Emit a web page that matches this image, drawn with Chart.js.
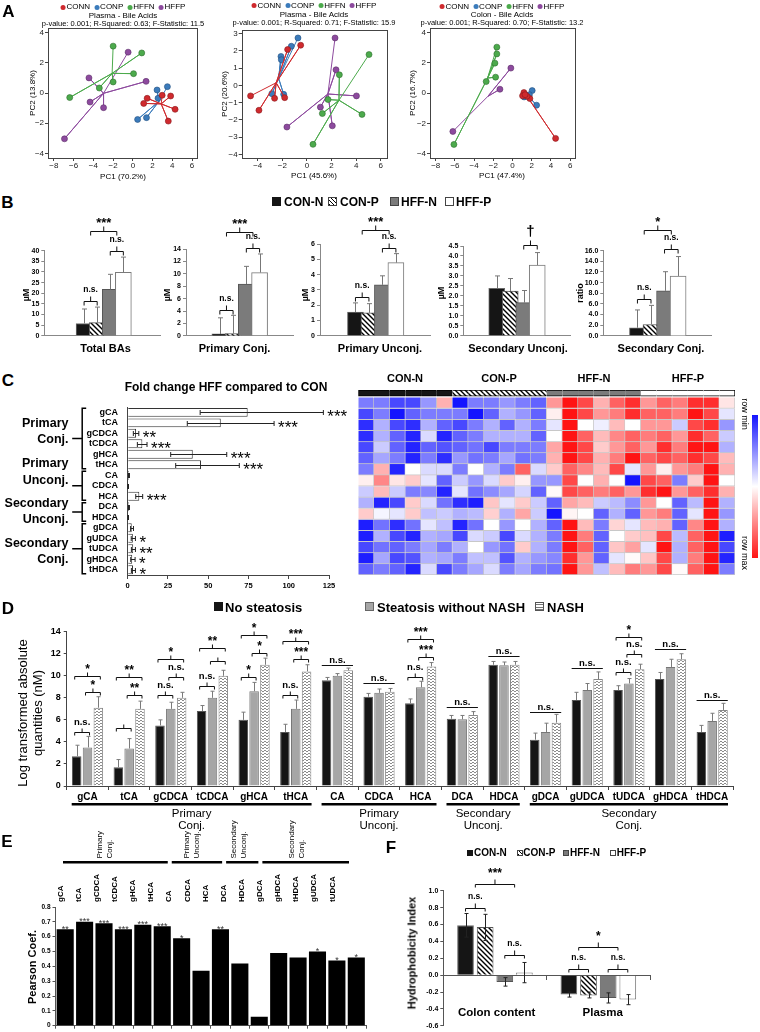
<!DOCTYPE html>
<html>
<head>
<meta charset="utf-8">
<title>Bile acids</title>
<script src="https://cdn.jsdelivr.net/npm/chart.js@4.4.1/dist/chart.umd.min.js"></script>
<style>
  html, body { margin: 0; background: #fff; }
  #page { position: relative; width: 760px; height: 1032px; overflow: hidden; font-family: "Liberation Sans", Arial, sans-serif; color: #000; }
  #page canvas { position: absolute; }
  .t { position: absolute; white-space: nowrap; }
  .sw { position: absolute; box-sizing: border-box; }
  .row { position: absolute; display: flex; align-items: center; white-space: nowrap; transform: translate(-50%, -50%); }
  .dot { display: inline-block; border-radius: 50%; }
</style>
</head>
<body>
<div id="page"></div>
<script>
// ---------- A: PCA score plots ----------
const pcaGroups = ['CONN', 'CONP', 'HFFN', 'HFFP'];
const pcaColors = ['#cf2a2e', '#3b7bbb', '#4caa4c', '#8d4a9e'];
const pcaEdges = ['#8a1a1d', '#244f7d', '#2f6f2f', '#5c2f68'];

const plasma1Conn = [[2.97, -0.15], [3.83, -0.2], [1.45, -0.35], [1.1, -0.69], [4.28, -1.08], [3.59, -1.86]];
const plasma1Conp = [[3.5, 0.42], [2.45, 0.2], [2.55, -0.35], [0.48, -1.75], [1.38, -1.63]];
const plasma1Hffn = [[-2.0, 3.1], [0.9, 2.65], [0.07, 1.28], [-2.0, 0.73], [-3.4, 0.33], [-6.4, -0.3]];
const plasma1Hffp = [[-0.48, 2.7], [-4.45, 1.0], [1.34, 0.77], [-4.34, -0.6], [-2.97, -0.97], [-6.93, -3.03]];
const plasma1Centers = [[2.87, -0.72], [2.65, -0.55], [-2.1, 1.3], [-2.97, -0.02]];

const plasma2Conn = [[-4.58, -0.61], [-3.9, -1.44], [-2.63, -0.75], [-1.81, -0.71], [-1.57, 2.07], [-0.51, 2.32]];
const plasma2Conp = [[-0.73, 2.74], [-1.27, 2.26], [-2.11, 1.67], [-2.08, 1.48], [-2.85, -0.48], [-1.89, -0.52]];
const plasma2Hffn = [[5.04, 1.78], [2.63, 0.61], [1.71, -0.82], [1.25, -1.63], [4.47, -1.68], [0.49, -3.41]];
const plasma2Hffp = [[2.28, 2.74], [2.36, 0.9], [4.02, -0.61], [1.09, -1.26], [2.06, -2.34], [-1.63, -2.41]];
const plasma2Centers = [[-2.5, 0.15], [-2.3, 0.4], [2.6, -0.86], [1.7, -0.5]];

const colonConn = [[1.18, 0.04], [1.04, -0.18], [1.8, -0.36], [4.48, -3.0], [1.5, -0.2], [1.3, -0.1]];
const colonConp = [[2.04, 0.17], [2.5, -0.8], [1.4, -0.2], [1.75, -0.1], [1.2, -0.25]];
const colonHffn = [[-1.64, 3.05], [-1.64, 2.6], [-1.84, 1.99], [-1.77, 1.06], [-2.75, 0.77], [-6.11, -3.4]];
const colonHffp = [[-6.22, -2.54], [-1.32, 0.26], [-0.18, 1.66]];
const colonCenters = [[1.6, -0.3], [1.7, -0.25], [-2.6, 1.0], [-2.57, -0.21]];

// ---------- B: bile acid pools ----------
const bGroups = ['CON-N', 'CON-P', 'HFF-N', 'HFF-P'];
const totalBAs = [5.8, 6.2, 21.8, 29.8];
const totalBAsErr = [12.6, 13.5, 28.9, 37.0];
const totalBAsSig = [[0, 1, 16.5, 'n.s.'], [2, 3, 40, 'n.s.'], [0.5, 2.5, 49.3, '***']];
const primaryConj = [0.3, 0.35, 8.35, 10.2];
const primaryConjErr = [2.9, 3.3, 11.2, 13.2];
const primaryConjSig = [[0, 1, 4.1, 'n.s.'], [2, 3, 14.1, 'n.s.'], [0.5, 2.5, 16.8, '***']];
const primaryUnconj = [1.55, 1.5, 3.33, 4.78];
const primaryUnconjErr = [2.15, 2.1, 3.92, 5.37];
const primaryUnconjSig = [[0, 1, 2.55, 'n.s.'], [2, 3, 5.77, 'n.s.'], [0.5, 2.5, 6.9, '***']];
const secondaryUnconj = [2.38, 2.24, 1.66, 3.54];
const secondaryUnconjErr = [3.0, 2.87, 2.27, 4.17];
const secondaryUnconjSig = [[2, 3, 4.55, '\u2020']];
const secondaryConj = [1.52, 2.12, 8.45, 11.25];
const secondaryConjErr = [4.86, 5.72, 12.05, 14.9];
const secondaryConjSig = [[0, 1, 6.87, 'n.s.'], [2, 3, 16.25, 'n.s.'], [0.5, 2.5, 19.8, '*']];

// ---------- C: fold change and heatmap ----------
const cRows = ['gCA', 'tCA', 'gCDCA', 'tCDCA', 'gHCA', 'tHCA', 'CA', 'CDCA', 'HCA', 'DCA', 'HDCA', 'gDCA', 'gUDCA', 'tUDCA', 'gHDCA', 'tHDCA'];
const cFold = [74.5, 57.8, 5.2, 9.1, 40.4, 45.5, 0.8, 0.3, 7.2, 0.8, 0.3, 2.5, 3.2, 3.4, 2.8, 3.3];
const cErrLow = [45, 37, 3.5, 6, 26.7, 29.8, 0.5, 0.1, 5, 0.5, 0.1, 1.8, 2.2, 2.3, 1.9, 2.3];
const cErrHigh = [121.5, 90.9, 6.9, 12, 61.5, 69.3, 1.1, 0.5, 9.3, 1.1, 0.5, 3.6, 4.8, 4.8, 4.6, 4.8];
const cStars = ['***', '***', '**', '***', '***', '***', '', '', '***', '', '', '', '*', '**', '*', '*'];
const acidGroups = [[0, 5], [6, 8], [9, 10], [11, 15]];
const groupNames = [['Primary', 'Conj.'], ['Primary', 'Unconj.'], ['Secondary', 'Unconj.'], ['Secondary', 'Conj.']];

const heatSamples = ['CN1', 'CN2', 'CN3', 'CN4', 'CN5', 'CN6', 'CP1', 'CP2', 'CP3', 'CP4', 'CP5', 'CP6',
                     'HN1', 'HN2', 'HN3', 'HN4', 'HN5', 'HN6', 'HP1', 'HP2', 'HP3', 'HP4', 'HP5', 'HP6'];
const heatGroupOf = [0, 0, 0, 0, 0, 0, 1, 1, 1, 1, 1, 1, 2, 2, 2, 2, 2, 2, 3, 3, 3, 3, 3, 3];
// 0 = row min (blue) ... 4.5 = white ... 9 = row max (red)
const heatRows = [
  [2, 2, 1, 1, 2.5, 6, 0, 2, 2, 2.5, 2, 1.5, 6.5, 9, 8, 6, 7.5, 8.5, 6.5, 7.5, 7, 8.5, 8.5, 5],
  [1, 2, 0, 1.5, 2, 2, 2, 0, 1.5, 3, 2.5, 1.5, 4.8, 9, 8, 6.5, 7, 8.5, 7.5, 7.5, 7, 9, 8, 4],
  [0.5, 3, 1, 0.5, 3, 1.5, 1, 2, 3, 1.5, 3, 2, 4, 9, 4.5, 4.2, 5.8, 4.5, 6.5, 6.5, 3.5, 8, 8.5, 2.5],
  [0.5, 3, 1.5, 0.3, 3.8, 0.3, 1.5, 2, 3, 3, 3, 1.5, 4.5, 9, 7.5, 5.8, 6.8, 7.5, 7, 7.5, 6.5, 8.5, 7.5, 3.5],
  [1, 3.5, 1.5, 0.3, 1.5, 1.2, 1.5, 1.8, 1, 2, 2, 2, 6.2, 9, 8, 5.5, 6.5, 7.5, 6.5, 8.5, 7, 9, 9, 3],
  [1.5, 2.8, 2, 0.3, 2, 0.5, 2.5, 1.8, 2, 2.8, 1.8, 2, 6, 9, 8, 6, 7, 9, 7.5, 8, 7.5, 8.5, 8, 5.8],
  [2, 6, 0.3, 4.5, 3.8, 3.8, 2, 4.5, 3, 2, 7.5, 3.8, 5.5, 7.5, 6.8, 5.8, 8, 4, 6.5, 4.8, 6.5, 7, 9, 6],
  [4.8, 6.8, 5, 5.5, 4, 1.5, 3.5, 2.5, 3.8, 5.5, 4.8, 2.5, 2.5, 8, 4.5, 6, 4.5, 0, 8, 7.5, 2, 5.5, 9, 4.5],
  [3.5, 5.8, 3.5, 2, 2.2, 0.3, 4, 1.8, 2.3, 2.8, 3.7, 1.5, 4.6, 8, 7.5, 7, 7.5, 6.5, 8.5, 9, 6.5, 7.5, 8.5, 6],
  [3, 0.3, 1, 5.5, 3.8, 1.8, 0.5, 0.2, 5.6, 4, 5.5, 3.5, 1.5, 6.2, 5.8, 3.5, 3.2, 2.3, 6.5, 4.5, 1.5, 3.2, 9, 3],
  [5.5, 4.3, 4, 5.5, 3.3, 3.5, 3, 3.2, 5.4, 3, 6.2, 3.5, 0, 4.7, 4.5, 1.5, 3, 1.5, 6.5, 7, 1.5, 4, 9, 2.5],
  [0.2, 1.8, 0.5, 1.8, 4, 3.3, 0.3, 1.8, 4.5, 2.5, 4.5, 3, 1.5, 9, 5.8, 2, 5.3, 4, 5.8, 6, 1.5, 6.8, 9, 3],
  [0.2, 3, 1, 0.3, 3, 2.8, 1, 3.8, 3.5, 1, 3.8, 3, 2, 9, 7, 1.5, 4.5, 5.5, 5.7, 8, 3.2, 7.5, 9, 0.2],
  [1, 1.8, 1.5, 2, 2.8, 2, 3, 4.5, 2.5, 1.8, 5.5, 3, 2, 9, 7.5, 1.5, 5.6, 6.3, 4, 9, 3, 7.5, 9, 1],
  [0.2, 2.8, 1, 1.2, 3, 2.8, 2, 3.3, 3.3, 1.2, 3, 2.5, 2.2, 8.5, 6.5, 1.5, 4, 4.6, 5.6, 8, 3, 7, 9, 0.3],
  [1.5, 2, 1.5, 0.3, 3.8, 1, 2, 2.8, 3.8, 2, 2.8, 2, 1.8, 9, 6.5, 3.3, 5.8, 7, 6.5, 8, 4.6, 7.5, 9, 2]
];

// ---------- D: human cohort ----------
const dAcids = ['gCA', 'tCA', 'gCDCA', 'tCDCA', 'gHCA', 'tHCA', 'CA', 'CDCA', 'HCA', 'DCA', 'HDCA', 'gDCA', 'gUDCA', 'tUDCA', 'gHDCA', 'tHDCA'];
const dSeries = ['No steatosis', 'Steatosis without NASH', 'NASH'];
const dNoSteatosis = [2.7, 1.7, 5.5, 6.8, 6.0, 4.9, 9.6, 8.1, 7.5, 6.1, 11.0, 4.2, 7.8, 8.7, 9.7, 4.9];
const dSteatosis = [3.5, 3.4, 7.0, 8.0, 8.6, 7.0, 10.0, 8.45, 8.95, 6.05, 10.95, 4.9, 8.7, 9.3, 10.8, 5.9];
const dNash = [7.1, 7.0, 8.0, 10.0, 11.0, 10.4, 10.5, 8.55, 10.85, 6.45, 11.0, 5.75, 9.7, 10.6, 11.5, 6.9];
const dNoSteatosisErr = [3.7, 2.4, 6.0, 7.3, 6.7, 5.6, 9.85, 8.4, 7.9, 6.4, 11.3, 4.8, 8.5, 9.1, 10.3, 5.5];
const dSteatosisErr = [4.5, 4.3, 7.6, 8.6, 9.4, 7.8, 10.2, 8.8, 9.5, 6.4, 11.25, 5.7, 9.3, 9.75, 11.5, 6.6];
const dNashErr = [8.1, 7.7, 8.5, 10.5, 11.6, 11.0, 10.7, 8.85, 11.2, 6.75, 11.3, 6.5, 10.35, 11.05, 12.0, 7.5];
// [acid, bar a, bar b, height, label, kind: b = bracket, l = line over the three bars]
const dSig = [
  [0, 0, 1, 4.93, 'n.s.', 'b'], [0, 1, 2, 8.56, '*', 'b'], [0, 0, 2, 9.98, '*', 'b'],
  [1, 0, 1, 5.24, '', 'b'], [1, 1, 2, 8.26, '**', 'b'], [1, 0, 2, 9.92, '**', 'b'],
  [2, 0, 1, 8.26, 'n.s.', 'b'], [2, 1, 2, 9.86, 'n.s.', 'b'], [2, 0, 2, 11.53, '*', 'b'],
  [3, 0, 1, 9.07, 'n.s.', 'b'], [3, 1, 2, 11.34, '', 'b'], [3, 0, 2, 12.55, '**', 'b'],
  [4, 0, 1, 9.86, '*', 'b'], [4, 1, 2, 12.1, '*', 'b'], [4, 0, 2, 13.7, '*', 'b'],
  [5, 0, 1, 8.26, 'n.s.', 'b'], [5, 1, 2, 11.53, '***', 'b'], [5, 0, 2, 13.16, '***', 'b'],
  [6, 0, 2, 10.99, 'n.s.', 'l'],
  [7, 0, 2, 9.32, 'n.s.', 'l'],
  [8, 0, 1, 9.92, 'n.s.', 'b'], [8, 1, 2, 11.73, '***', 'b'], [8, 0, 2, 13.31, '***', 'b'],
  [9, 0, 2, 7.2, 'n.s.', 'l'],
  [10, 0, 2, 11.79, 'n.s.', 'l'],
  [11, 0, 2, 6.68, 'n.s.', 'l'],
  [12, 0, 2, 10.68, 'n.s.', 'l'],
  [13, 0, 1, 10.38, 'n.s.', 'b'], [13, 1, 2, 11.98, 'n.s.', 'b'], [13, 0, 2, 13.55, '*', 'b'],
  [14, 0, 2, 12.4, 'n.s.', 'l'],
  [15, 0, 2, 7.8, 'n.s.', 'l']
];

// ---------- E: correlation ----------
const eAcids = ['gCA', 'tCA', 'gCDCA', 'tCDCA', 'gHCA', 'tHCA', 'CA', 'CDCA', 'HCA', 'DCA', 'HDCA', 'gDCA', 'gHDCA', 'tHDCA', 'gUDCA', 'tUDCA'];
const eCoef = [0.65, 0.70, 0.69, 0.65, 0.68, 0.67, 0.59, 0.37, 0.65, 0.42, 0.06, 0.49, 0.46, 0.50, 0.44, 0.46];
const eStars = ['**', '***', '***', '***', '***', '***', '*', '', '**', '', '', '', '', '*', '*', '*'];

// ---------- F: hydrophobicity index ----------
const fCategories = ['Colon content', 'Plasma'];
const fValues = [[0.59, -0.23], [0.57, -0.24], [-0.08, -0.27], [0.03, -0.29]];
const fErrLow = [[0.45, -0.26], [0.41, -0.27], [-0.13, -0.33], [-0.09, -0.35]];
const fErrHigh = [[0.73, -0.20], [0.72, -0.20], [-0.03, -0.21], [0.15, -0.23]];
// [category, bar a, bar b, height, label]
const fSig = [[0, 0, 1, 0.80, 'n.s.'], [0, 2, 3, 0.24, 'n.s.'], [0, 0.5, 2.5, 1.08, '***'],
              [1, 0, 1, 0.075, 'n.s.'], [1, 2, 3, 0.075, 'n.s.'], [1, 0.5, 2.5, 0.33, '*']];

// ---------- setup ----------
const page = document.getElementById('page');
const FONT = '"Liberation Sans", Arial, Helvetica, sans-serif';
Chart.defaults.font.family = FONT;
Chart.defaults.color = '#000';
Chart.defaults.animation = false;
Chart.defaults.events = [];
Chart.defaults.plugins.legend.display = false;
Chart.defaults.plugins.tooltip.enabled = false;

function fnt(w, s) { return w + ' ' + s + 'px ' + FONT; }

function hatch(size, lw) {
  const c = document.createElement('canvas');
  c.width = c.height = size;
  const g = c.getContext('2d');
  g.fillStyle = '#fff'; g.fillRect(0, 0, size, size);
  g.strokeStyle = '#000'; g.lineWidth = lw;
  g.beginPath();
  g.moveTo(-1, -1); g.lineTo(size + 1, size + 1);
  g.moveTo(size - 1, -1); g.lineTo(size + 1, 1);
  g.moveTo(-1, size - 1); g.lineTo(1, size + 1);
  g.stroke();
  return g.createPattern(c, 'repeat');
}
function waves() {
  const c = document.createElement('canvas');
  c.width = 4; c.height = 3;
  const g = c.getContext('2d');
  g.fillStyle = '#fff'; g.fillRect(0, 0, 4, 3);
  g.fillStyle = '#8c8c8c'; g.fillRect(0, 0, 2, 1); g.fillRect(2, 1, 2, 1);
  return g.createPattern(c, 'repeat');
}
const hatchFill = hatch(5, 1.4);
const groupFill = ['#151515', hatchFill, '#7b7b7b', '#ffffff'];
const groupEdge = ['#6a6a6a', '#555', '#555', '#7a7a7a'];
const cssFill = ['#151515', 'repeating-linear-gradient(45deg, #000 0 1px, #fff 1px 3px)', '#7b7b7b', '#fff'];

function heatColor(v) {
  const t = v / 9;
  if (t < 0.5) { const k = Math.round(20 + 235 * (t / 0.5)); return `rgb(${k},${k},255)`; }
  const k = Math.round(255 - 235 * ((t - 0.5) / 0.5));
  return `rgb(255,${k},${k})`;
}

function txt(s, x, y, font, align, rot) {
  const d = document.createElement('div');
  d.className = 't';
  d.textContent = s;
  d.style.left = x + 'px';
  d.style.top = y + 'px';
  d.style.font = font;
  d.style.lineHeight = '1';
  const tx = align === 'left' ? '0' : align === 'right' ? '-100%' : '-50%';
  d.style.transform = `translate(${tx}, -50%)` + (rot ? ` rotate(${rot}deg)` : '');
  page.appendChild(d);
}
function swatch(x, y, size, bg, edge) {
  const d = document.createElement('div');
  d.className = 'sw';
  d.style.left = x + 'px'; d.style.top = (y - size / 2) + 'px';
  d.style.width = size + 'px'; d.style.height = size + 'px';
  d.style.background = bg;
  d.style.border = edge ? '1px solid ' + edge : 'none';
  page.appendChild(d);
}
function dotLegend(cx, cy) {
  const r = document.createElement('div');
  r.className = 'row';
  r.style.left = cx + 'px'; r.style.top = cy + 'px';
  r.style.font = fnt('normal', 8); r.style.lineHeight = '1';
  pcaGroups.forEach((g, i) => {
    const dot = document.createElement('span');
    dot.className = 'dot';
    dot.style.width = '5px'; dot.style.height = '5px';
    dot.style.background = pcaColors[i];
    dot.style.marginLeft = (i ? 4 : 0) + 'px';
    dot.style.marginRight = '1px';
    r.appendChild(dot);
    r.appendChild(document.createTextNode(g));
  });
  page.appendChild(r);
}

function makeChart(rect, config) {
  const cv = document.createElement('canvas');
  cv.width = rect[2]; cv.height = rect[3];
  cv.style.left = rect[0] + 'px'; cv.style.top = rect[1] + 'px';
  cv.style.width = rect[2] + 'px'; cv.style.height = rect[3] + 'px';
  page.appendChild(cv);
  config.options.responsive = false;
  return new Chart(cv.getContext('2d'), config);
}
// rect = [x, y, w, h] of the canvas, area = [left, top, right, bottom] of the plot, page pixels
function pad(rect, area, yw, xh) {
  return { left: area[0] - rect[0] - yw, top: area[1] - rect[1],
           right: rect[0] + rect[2] - area[2], bottom: rect[1] + rect[3] - area[3] - xh };
}
function seg(ctx, x1, y1, x2, y2) {
  ctx.beginPath(); ctx.moveTo(x1, y1); ctx.lineTo(x2, y2); ctx.stroke();
}
// significance bracket; st = {up, down, small, big, dagger, gapS, gapB}
function bracket(ctx, x1, x2, y, label, st) {
  ctx.beginPath();
  ctx.moveTo(x1, y + st.down); ctx.lineTo(x1, y); ctx.lineTo(x2, y); ctx.lineTo(x2, y + st.down);
  const xm = (x1 + x2) / 2;
  ctx.moveTo(xm, y); ctx.lineTo(xm, y - st.up);
  ctx.stroke();
  if (!label) return;
  const star = label.indexOf('*') >= 0;
  ctx.font = star ? st.big : label === '\u2020' ? st.dagger : st.small;
  ctx.textAlign = 'center'; ctx.textBaseline = 'alphabetic';
  ctx.fillText(label, xm, y - st.up - (star ? st.gapB : st.gapS));
}

const framePlugin = {
  id: 'frame',
  afterDraw(chart) {
    const a = chart.chartArea, c = chart.ctx;
    c.save();
    c.strokeStyle = '#444'; c.lineWidth = 1;
    c.strokeRect(Math.round(a.left) + 0.5, Math.round(a.top) + 0.5, Math.round(a.right - a.left), Math.round(a.bottom - a.top));
    c.restore();
  }
};
const minus = v => String(v).replace('-', '\u2212');

// ---------- A ----------
function pcaChart(rect, area, xr, yr, yStep, sets, centers) {
  const yw = 18, xh = 14;
  return makeChart(rect, {
    type: 'scatter',
    data: {
      datasets: sets.map((pts, g) => ({
        label: pcaGroups[g],
        data: pts.flatMap(p => [{ x: p[0], y: p[1] }, { x: centers[g][0], y: centers[g][1] }]),
        showLine: true,
        borderColor: pcaColors[g],
        borderWidth: 1,
        pointRadius: c => (c.dataIndex % 2 ? 0 : 3),
        pointBackgroundColor: pcaColors[g],
        pointBorderColor: pcaEdges[g],
        pointBorderWidth: 0.6
      }))
    },
    options: {
      layout: { padding: pad(rect, area, yw, xh) },
      scales: {
        x: { type: 'linear', min: xr[0], max: xr[1], afterFit: s => { s.height = xh; },
             ticks: { stepSize: 2, includeBounds: false, autoSkip: false, maxRotation: 0, font: { size: 8 }, color: '#222', padding: 0, callback: minus },
             grid: { drawOnChartArea: false, tickLength: 3, color: '#444' }, border: { display: false } },
        y: { type: 'linear', min: yr[0], max: yr[1], afterFit: s => { s.width = yw; },
             ticks: { stepSize: yStep, includeBounds: false, autoSkip: false, font: { size: 8 }, color: '#222', padding: 1, callback: minus },
             grid: { drawOnChartArea: false, tickLength: 3, color: '#444' }, border: { display: false } }
      }
    },
    plugins: [framePlugin]
  });
}
pcaChart([0, 0, 240, 184], [48, 28, 197, 158], [-8.6, 6.5], [-4.3, 4.3], 2,
         [plasma1Conn, plasma1Conp, plasma1Hffn, plasma1Hffp], plasma1Centers);
pcaChart([200, 0, 200, 184], [241.7, 30, 387, 158], [-5.3, 6.5], [-4.2, 3.2], 1,
         [plasma2Conn, plasma2Conp, plasma2Hffn, plasma2Hffp], plasma2Centers);
pcaChart([396, 0, 200, 184], [430, 28.3, 575, 158], [-8.6, 6.5], [-4.3, 4.3], 2,
         [colonConn, colonConp, colonHffn, colonHffp], colonCenters);

txt('A', 8.5, 11, fnt('bold', 17));
dotLegend(123, 7.3);
txt('Plasma - Bile Acids', 123, 16, fnt('normal', 8));
txt('p-value: 0.001; R-Squared: 0.63; F-Statistic: 11.5', 123, 24, fnt('normal', 7.5));
dotLegend(314, 5.7);
txt('Plasma - Bile Acids', 314, 15, fnt('normal', 8));
txt('p-value: 0.001; R-Squared: 0.71; F-Statistic: 15.9', 314, 22.7, fnt('normal', 7.5));
dotLegend(502, 6.7);
txt('Colon - Bile Acids', 502, 15, fnt('normal', 8));
txt('p-value: 0.001; R-Squared: 0.70; F-Statistic: 13.2', 502, 23.3, fnt('normal', 7.5));
txt('PC2 (13.8%)', 33, 93, fnt('normal', 8), null, -90);
txt('PC1 (70.2%)', 123, 177, fnt('normal', 8));
txt('PC2 (20.6%)', 225, 94, fnt('normal', 8), null, -90);
txt('PC1 (45.6%)', 314, 176, fnt('normal', 8));
txt('PC2 (16.7%)', 413, 93, fnt('normal', 8), null, -90);
txt('PC1 (47.4%)', 502, 176, fnt('normal', 8));

// ---------- B ----------
const bStyle = { up: 5, down: 4, small: fnt('bold', 8.5), big: fnt('bold', 13), dagger: fnt('bold', 15), gapS: 5, gapB: 0 };
function bPanel(rect, area, xr, ymax, step, digits, yw, vals, errs, sig) {
  return makeChart(rect, {
    type: 'bar',
    data: { datasets: [{ data: vals.map((v, i) => ({ x: i, y: v })), backgroundColor: groupFill, borderColor: groupEdge, borderWidth: 1, barThickness: 16 }] },
    options: {
      layout: { padding: pad(rect, area, yw, 2) },
      scales: {
        x: { type: 'linear', min: xr[0], max: xr[1], afterFit: s => { s.height = 2; },
             ticks: { display: false }, grid: { display: false }, border: { color: '#888' } },
        y: { min: 0, max: ymax, afterFit: s => { s.width = yw; },
             ticks: { stepSize: step, autoSkip: false, font: { size: 7, weight: 'bold' }, padding: 2, callback: v => v.toFixed(digits) },
             grid: { drawOnChartArea: false, tickLength: 3, color: '#888' }, border: { color: '#888' } }
      }
    },
    plugins: [{
      id: 'bDeco',
      afterDatasetsDraw(chart) {
        const ctx = chart.ctx, x = chart.scales.x, y = chart.scales.y;
        ctx.save();
        ctx.strokeStyle = '#777'; ctx.lineWidth = 1;
        chart.getDatasetMeta(0).data.forEach((b, i) => {
          const yt = y.getPixelForValue(errs[i]), xc = Math.round(b.x) + 0.5;
          seg(ctx, xc, b.y, xc, yt);
          seg(ctx, xc - 2.5, yt, xc + 2.5, yt);
        });
        ctx.strokeStyle = '#111'; ctx.fillStyle = '#000';
        sig.forEach(s => bracket(ctx, x.getPixelForValue(s[0]), x.getPixelForValue(s[1]), Math.round(y.getPixelForValue(s[2])) + 0.5, s[3], bStyle));
        ctx.restore();
      }
    }]
  });
}
bPanel([10, 212, 160, 130], [44.3, 250.7, 160, 339.3], [-0.83, 3.59], 40, 5, 0, 20, totalBAs, totalBAsErr, totalBAsSig);
bPanel([160, 212, 140, 130], [186, 249, 293.3, 339.3], [-0.53, 3.52], 14, 2, 0, 20, primaryConj, primaryConjErr, primaryConjSig);
bPanel([296, 212, 144, 130], [320, 244, 430, 338.3], [-0.59, 3.49], 6, 1, 0, 20, primaryUnconj, primaryUnconjErr, primaryUnconjSig);
bPanel([436, 212, 144, 130], [463.3, 246, 570, 338.3], [-0.5, 3.45], 4.5, 0.5, 1, 24, secondaryUnconj, secondaryUnconjErr, secondaryUnconjSig);
bPanel([574, 212, 150, 130], [603.3, 250.7, 711.7, 338.3], [-0.52, 3.48], 16, 2, 1, 26, secondaryConj, secondaryConjErr, secondaryConjSig);

txt('B', 7.5, 201.7, fnt('bold', 17));
[[272, 284], [328, 340], [390, 401], [445, 456]].forEach((p, i) => {
  swatch(p[0], 201.7, 9, cssFill[i], i ? '#444' : null);
  txt(bGroups[i], p[1], 201.7, fnt('bold', 12), 'left');
});
txt('\u00b5M', 26, 295, fnt('bold', 9), null, -90);
txt('\u00b5M', 167, 295, fnt('bold', 9), null, -90);
txt('\u00b5M', 305, 295, fnt('bold', 9), null, -90);
txt('\u00b5M', 441, 293, fnt('bold', 9), null, -90);
txt('ratio', 580, 293, fnt('bold', 9), null, -90);
txt('Total BAs', 105.5, 348.3, fnt('bold', 11));
txt('Primary Conj.', 234.5, 348.3, fnt('bold', 11));
txt('Primary Unconj.', 380, 348.3, fnt('bold', 11));
txt('Secondary Unconj.', 518, 348.3, fnt('bold', 11));
txt('Secondary Conj.', 661, 348.3, fnt('bold', 11));

// ---------- C ----------
const cRect = [0, 392, 358, 200], cArea = [127.7, 401, 329, 575];
makeChart(cRect, {
  type: 'bar',
  data: { labels: cRows, datasets: [{ data: cFold, backgroundColor: '#fff', borderColor: '#333', borderWidth: 1, barPercentage: 0.85, categoryPercentage: 1 }] },
  options: {
    indexAxis: 'y',
    layout: { padding: pad(cRect, cArea, 60, 14) },
    scales: {
      x: { min: 0, max: 125, afterFit: s => { s.height = 14; },
           ticks: { stepSize: 25, font: { size: 7.5, weight: 'bold' }, padding: 2, maxRotation: 0, autoSkip: false },
           grid: { drawOnChartArea: false, tickLength: 4, color: '#444' }, border: { color: '#444' } },
      y: { afterFit: s => { s.width = 60; },
           ticks: { font: { size: 9, weight: 'bold' }, padding: 9.7, autoSkip: false },
           grid: { display: false, drawTicks: false }, border: { color: '#444' } }
    }
  },
  plugins: [{
    id: 'cDeco',
    afterDatasetsDraw(chart) {
      const ctx = chart.ctx, a = chart.chartArea, x = chart.scales.x, y = chart.scales.y;
      ctx.save();
      ctx.strokeStyle = '#222'; ctx.fillStyle = '#000'; ctx.lineWidth = 1;
      cFold.forEach((v, i) => {
        const yc = Math.round(y.getPixelForValue(i)) + 0.5;
        const x1 = x.getPixelForValue(cErrLow[i]), x2 = x.getPixelForValue(cErrHigh[i]);
        seg(ctx, x1, yc, x2, yc);
        seg(ctx, x1, yc - 2.5, x1, yc + 2.5);
        seg(ctx, x2, yc - 2.5, x2, yc + 2.5);
        if (cStars[i]) {
          ctx.font = fnt('normal', 17); ctx.textAlign = 'left'; ctx.textBaseline = 'alphabetic';
          ctx.fillText(cStars[i], x2 + 4, yc + 9.8);
        }
      });
      ctx.lineWidth = 1.5; ctx.strokeStyle = '#000';
      acidGroups.forEach(([i0, i1]) => {
        const yt = y.getPixelForValue(i0) - 4, yb = y.getPixelForValue(i1) + 4, xv = a.left - 45.5, ym = (yt + yb) / 2;
        ctx.beginPath();
        ctx.moveTo(xv + 4, yt); ctx.lineTo(xv, yt); ctx.lineTo(xv, yb); ctx.lineTo(xv + 4, yb);
        ctx.moveTo(xv, ym); ctx.lineTo(xv - 10, ym);
        ctx.stroke();
      });
      ctx.restore();
    }
  }]
});

makeChart([356, 386, 384, 192], {
  type: 'bar',
  data: {
    labels: heatSamples,
    datasets: [
      { data: heatSamples.map(() => 0.55), backgroundColor: heatGroupOf.map(g => groupFill[g]), borderColor: '#000',
        borderWidth: c => ({ top: 1, bottom: 1, left: c.dataIndex === 0 ? 1 : 0, right: c.dataIndex === heatSamples.length - 1 ? 1 : 0 }) },
      { data: heatSamples.map(() => 0.12), backgroundColor: 'rgba(0,0,0,0)', borderWidth: 0 }
    ].concat(heatRows.map(row => ({
      data: row.map(() => 1), backgroundColor: row.map(heatColor), borderColor: '#c8c8c8',
      borderWidth: { top: 0, left: 0, right: 1, bottom: 1 }
    })))
  },
  options: {
    layout: { padding: { left: 2.3, top: 4, right: 5, bottom: 3 } },
    datasets: { bar: { categoryPercentage: 1, barPercentage: 1, borderSkipped: false } },
    scales: {
      x: { stacked: true, display: false },
      y: { stacked: true, display: false, reverse: true, min: 0, max: 16.67 }
    }
  }
});

txt('C', 8, 380, fnt('bold', 17));
txt('Fold change HFF compared to CON', 226, 386.5, fnt('bold', 12));
[['Primary', 422.7], ['Conj.', 439.3], ['Primary', 463], ['Unconj.', 480],
 ['Secondary', 502.7], ['Unconj.', 519.3], ['Secondary', 542.7], ['Conj.', 559.3]].forEach(p => txt(p[0], 68.5, p[1], fnt('bold', 12.5), 'right'));
[405, 499, 594, 688].forEach((x, i) => txt(bGroups[i], x, 378, fnt('bold', 11)));
(function () {
  const d = document.createElement('div');
  d.className = 'sw';
  d.style.left = '751.7px'; d.style.top = '415px'; d.style.width = '6.6px'; d.style.height = '143px';
  d.style.background = 'linear-gradient(to bottom, #1414ff, #ffffff, #ff1414)';
  page.appendChild(d);
})();
txt('row min', 744, 413.5, fnt('normal', 9), null, 90);
txt('row max', 744, 553, fnt('normal', 9), null, 90);

// ---------- D ----------
const nashFill = waves();
const dFills = ['#151515', '#a6a6a6', nashFill];
const dEdges = ['#555', '#777', '#888'];
const dErrs = [dNoSteatosisErr, dSteatosisErr, dNashErr];
const dStyle = { up: 4, down: 3, small: fnt('bold', 9.5), big: fnt('bold', 12), dagger: fnt('bold', 12), gapS: 3.5, gapB: 0 };
const dRect = [0, 615, 760, 226], dArea = [66.7, 631.7, 733, 786];
makeChart(dRect, {
  type: 'bar',
  data: {
    labels: dAcids,
    datasets: [dNoSteatosis, dSteatosis, dNash].map((vals, k) => ({
      label: dSeries[k], data: vals, backgroundColor: dFills[k], borderColor: dEdges[k], borderWidth: 1,
      categoryPercentage: 0.78, barPercentage: 0.88
    }))
  },
  options: {
    layout: { padding: pad(dRect, dArea, 20, 16) },
    scales: {
      x: { afterFit: s => { s.height = 16; },
           ticks: { font: { size: 10, weight: 'bold' }, padding: 1, maxRotation: 0, autoSkip: false },
           grid: { offset: true, drawOnChartArea: false, tickLength: 4, color: '#444' }, border: { color: '#444' } },
      y: { min: 0, max: 14, afterFit: s => { s.width = 20; },
           ticks: { stepSize: 2, autoSkip: false, font: { size: 9, weight: 'bold' }, padding: 3 },
           grid: { drawOnChartArea: false, tickLength: 3, color: '#444' }, border: { color: '#444' } }
    }
  },
  plugins: [{
    id: 'dDeco',
    afterDatasetsDraw(chart) {
      const ctx = chart.ctx, a = chart.chartArea, x = chart.scales.x, y = chart.scales.y;
      const metas = [0, 1, 2].map(k => chart.getDatasetMeta(k).data);
      ctx.save();
      ctx.strokeStyle = '#7a7a7a'; ctx.lineWidth = 1;
      metas.forEach((bars, k) => bars.forEach((b, i) => {
        const yt = y.getPixelForValue(dErrs[k][i]), xc = Math.round(b.x) + 0.5;
        seg(ctx, xc, b.y, xc, yt);
        seg(ctx, xc - 2, yt, xc + 2, yt);
      }));
      ctx.strokeStyle = '#111'; ctx.fillStyle = '#000';
      dSig.forEach(([c, p, q, v, label, kind]) => {
        const yy = Math.round(y.getPixelForValue(v)) + 0.5;
        const ba = metas[p][c], bb = metas[q][c];
        if (kind === 'l') {
          seg(ctx, ba.x - ba.width / 2, yy, bb.x + bb.width / 2, yy);
          ctx.font = dStyle.small; ctx.textAlign = 'center'; ctx.textBaseline = 'alphabetic';
          ctx.fillText(label, (ba.x + bb.x) / 2, yy - 2.5);
        } else {
          bracket(ctx, ba.x - 2, bb.x + 2, yy, label, dStyle);
        }
      });
      const cw = x.getPixelForValue(1) - x.getPixelForValue(0);
      ctx.font = fnt('normal', 11.5); ctx.textAlign = 'center'; ctx.textBaseline = 'middle';
      acidGroups.forEach(([i0, i1], g) => {
        const xl = x.getPixelForValue(i0) - cw / 2 + 5, xr = x.getPixelForValue(i1) + cw / 2 - 5;
        ctx.fillRect(xl, a.bottom + 17, xr - xl, 2.5);
        ctx.fillText(groupNames[g][0], (xl + xr) / 2, a.bottom + 27.5);
        ctx.fillText(groupNames[g][1], (xl + xr) / 2, a.bottom + 40.2);
      });
      ctx.restore();
    }
  }]
});

txt('D', 8, 607.5, fnt('bold', 17));
swatch(214, 606.7, 9, '#151515', null);
txt(dSeries[0], 225, 606.7, fnt('bold', 13), 'left');
swatch(365, 606.7, 9, '#a6a6a6', '#666');
txt(dSeries[1], 377, 606.7, fnt('bold', 13), 'left');
swatch(535, 606.7, 9, 'repeating-linear-gradient(0deg, #777 0 1px, #fff 1px 2.5px)', '#555');
txt(dSeries[2], 547, 606.7, fnt('bold', 13), 'left');
txt('Log transformed absolute', 21.7, 712.5, fnt('normal', 13), null, -90);
txt('quantities (nM)', 37, 712.5, fnt('normal', 13), null, -90);

// ---------- E ----------
// header: acid names on a top category axis, with group rules and names above
const ehRect = [0, 812, 385, 96];
makeChart(ehRect, {
  type: 'bar',
  data: { labels: eAcids, datasets: [] },
  options: {
    layout: { padding: { left: 61, right: 34, top: 903 - 812 - 44, bottom: 3 } },
    scales: {
      x: { position: 'top', afterFit: s => { s.height = 44; },
           ticks: { minRotation: 90, maxRotation: 90, autoSkip: false, font: { size: 8, weight: 'bold' }, padding: 1 },
           grid: { display: false, drawTicks: false }, border: { display: false } },
      y: { display: false }
    }
  },
  plugins: [{
    id: 'eHead',
    afterDraw(chart) {
      const ctx = chart.ctx, a = chart.chartArea, x = chart.scales.x;
      const cw = x.getPixelForValue(1) - x.getPixelForValue(0);
      ctx.save();
      ctx.fillStyle = '#000'; ctx.font = fnt('normal', 8); ctx.textAlign = 'left'; ctx.textBaseline = 'middle';
      acidGroups.forEach(([i0, i1], g) => {
        const xl = x.getPixelForValue(i0) - cw / 2 + 2, xr = x.getPixelForValue(i1) + cw / 2 - 2;
        const xm = xl + 0.4 * (xr - xl);
        ctx.fillRect(xl, a.top - 42, xr - xl, 2.5);
        groupNames[g].forEach((ln, k) => {
          ctx.save();
          ctx.translate(xm + (k - 0.5) * 10, a.top - 44.5);
          ctx.rotate(-Math.PI / 2);
          ctx.fillText(ln, 0, 0);
          ctx.restore();
        });
      });
      ctx.restore();
    }
  }]
});

const eRect = [0, 842, 385, 190], eArea = [55.5, 907, 366, 1025.7];
makeChart(eRect, {
  type: 'bar',
  data: { labels: eAcids, datasets: [{ data: eCoef, backgroundColor: '#000', barPercentage: 0.88, categoryPercentage: 1 }] },
  options: {
    layout: { padding: pad(eRect, eArea, 16, 3) },
    scales: {
      x: { afterFit: s => { s.height = 3; }, ticks: { display: false },
           grid: { offset: true, drawOnChartArea: false, tickLength: 3, color: '#555' }, border: { color: '#555' } },
      y: { min: 0, max: 0.8, afterFit: s => { s.width = 16; },
           ticks: { stepSize: 0.1, autoSkip: false, font: { size: 6.5, weight: 'bold' }, padding: 2, callback: v => (Math.abs(v) < 1e-9 ? '0' : v.toFixed(1)) },
           grid: { drawOnChartArea: false, tickLength: 3, color: '#555' }, border: { color: '#555' } }
    }
  },
  plugins: [{
    id: 'eDeco',
    afterDatasetsDraw(chart) {
      const ctx = chart.ctx;
      ctx.save();
      ctx.fillStyle = '#333'; ctx.font = fnt('normal', 9); ctx.textAlign = 'center'; ctx.textBaseline = 'alphabetic';
      chart.getDatasetMeta(0).data.forEach((b, i) => { if (eStars[i]) ctx.fillText(eStars[i], b.x, b.y + 2.5); });
      ctx.restore();
    }
  }]
});
txt('E', 7, 841, fnt('bold', 17));
txt('Pearson Coef.', 32, 967, fnt('bold', 11), null, -90);

// ---------- F ----------
const fStyle = { up: 5, down: 3, small: fnt('bold', 8.5), big: fnt('bold', 12), dagger: fnt('bold', 12), gapS: 5, gapB: 2.2 };
const fRect = [386, 860, 270, 172], fArea = [443.3, 890.7, 650, 1026.7];
makeChart(fRect, {
  type: 'bar',
  data: {
    labels: fCategories,
    datasets: bGroups.map((g, k) => ({
      label: g, data: fValues[k], backgroundColor: groupFill[k], borderColor: groupEdge[k], borderWidth: 1,
      categoryPercentage: 0.76, barPercentage: 0.85
    }))
  },
  options: {
    layout: { padding: pad(fRect, fArea, 22, 0) },
    scales: {
      x: { position: { y: 0 }, afterFit: s => { s.height = 0; }, ticks: { display: false },
           grid: { offset: true, drawOnChartArea: false, tickLength: 4, color: '#555' }, border: { color: '#555' } },
      y: { min: -0.6, max: 1.0, afterFit: s => { s.width = 22; },
           ticks: { stepSize: 0.2, autoSkip: false, font: { size: 7, weight: 'bold' }, padding: 2, callback: v => (Math.abs(v) < 1e-9 ? '0.0' : v.toFixed(1)) },
           grid: { drawOnChartArea: false, tickLength: 3, color: '#555' }, border: { color: '#555' } }
    }
  },
  plugins: [{
    id: 'fDeco',
    afterDatasetsDraw(chart) {
      const ctx = chart.ctx, y = chart.scales.y;
      const metas = [0, 1, 2, 3].map(k => chart.getDatasetMeta(k).data);
      ctx.save();
      ctx.strokeStyle = '#222'; ctx.lineWidth = 1;
      metas.forEach((bars, k) => bars.forEach((b, i) => {
        const y1 = y.getPixelForValue(fErrLow[k][i]), y2 = y.getPixelForValue(fErrHigh[k][i]), xc = Math.round(b.x) + 0.5;
        seg(ctx, xc, y1, xc, y2);
        seg(ctx, xc - 2, y1, xc + 2, y1);
        seg(ctx, xc - 2, y2, xc + 2, y2);
      }));
      const barX = (c, k) => {
        const lo = Math.floor(k), hi = Math.ceil(k);
        return metas[lo][c].x + (k - lo) * (metas[hi][c].x - metas[lo][c].x);
      };
      ctx.strokeStyle = '#111'; ctx.fillStyle = '#000';
      fSig.forEach(([c, p, q, v, label]) => bracket(ctx, barX(c, p), barX(c, q), Math.round(y.getPixelForValue(v)) + 0.5, label, fStyle));
      ctx.restore();
    }
  }]
});
txt('F', 391, 846.7, fnt('bold', 17));
[[467, 474], [516.7, 523.3], [563, 570], [610, 616.7]].forEach((p, i) => {
  swatch(p[0], 853.3, 6, cssFill[i], i ? '#444' : null);
  txt(bGroups[i], p[1], 853.3, fnt('bold', 10), 'left');
});
txt('Hydrophobicity Index', 411.7, 953, fnt('bold', 11), null, -90);
txt(fCategories[0], 496.7, 1012.7, fnt('bold', 11.5));
txt(fCategories[1], 602.7, 1012.7, fnt('bold', 11.5));
</script>
</body>
</html>
